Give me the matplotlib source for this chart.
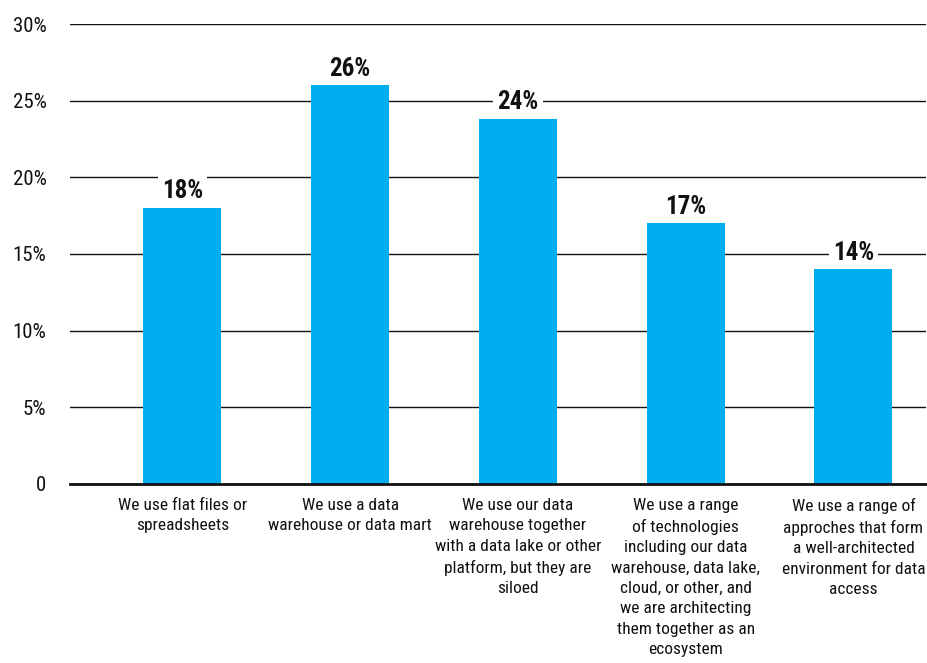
import matplotlib
matplotlib.use("Agg")
import matplotlib.pyplot as plt

categories = [
    "We use flat files or\nspreadsheets",
    "We use a data\nwarehouse or data mart",
    "We use our data\nwarehouse together\nwith a data lake or other\nplatform, but they are\nsiloed",
    "We use a range\nof technologies\nincluding our data\nwarehouse, data lake,\ncloud, or other, and\nwe are architecting\nthem together as an\necosystem",
    "We use a range of\napproches that form\na well-architected\nenvironment for data\naccess",
]
values = [18, 26, 23.8, 17, 14]
value_labels = ["18%", "26%", "24%", "17%", "14%"]
yticks = [0, 5, 10, 15, 20, 25, 30]
ytick_labels = ["0", "5%", "10%", "15%", "20%", "25%", "30%"]

# condensed face close to the original, DejaVu as last resort
plt.rcParams["font.family"] = ["Roboto Condensed", "Open Sans Condensed", "DejaVu Sans"]

fig = plt.figure(figsize=(9.27, 6.63), dpi=100)
ax = fig.add_axes([0.0755, 0.270, 0.923, 0.6938])

x = list(range(len(categories)))
ax.bar(x, values, width=0.465, color="#00AEEF", zorder=2)

for xi, v, lab in zip(x, values, value_labels):
    ax.text(xi, v + 0.3, lab, ha="center", va="bottom", fontsize=18,
            fontweight="bold", color="#111111", zorder=4,
            bbox=dict(facecolor="white", edgecolor="none", pad=3))

ax.set_xlim(-0.67, 4.43)
ax.set_ylim(0, 30)
ax.set_yticks(yticks)
ax.set_yticklabels(ytick_labels, fontsize=15)
ax.set_xticks(x)
ax.set_xticklabels(categories, fontsize=12.5, linespacing=1.45, va="top")
ax.tick_params(axis="both", length=0, colors="#111111")
ax.tick_params(axis="x", pad=10)
ax.tick_params(axis="y", pad=17)

ax.yaxis.grid(True, color="#111111", linewidth=1, zorder=1)
ax.set_axisbelow(True)
for s in ["top", "right", "left"]:
    ax.spines[s].set_visible(False)
ax.spines["bottom"].set_linewidth(2)
ax.spines["bottom"].set_color("#111111")
ax.spines["bottom"].set_zorder(3)

fig.savefig("out.png", dpi=100)
